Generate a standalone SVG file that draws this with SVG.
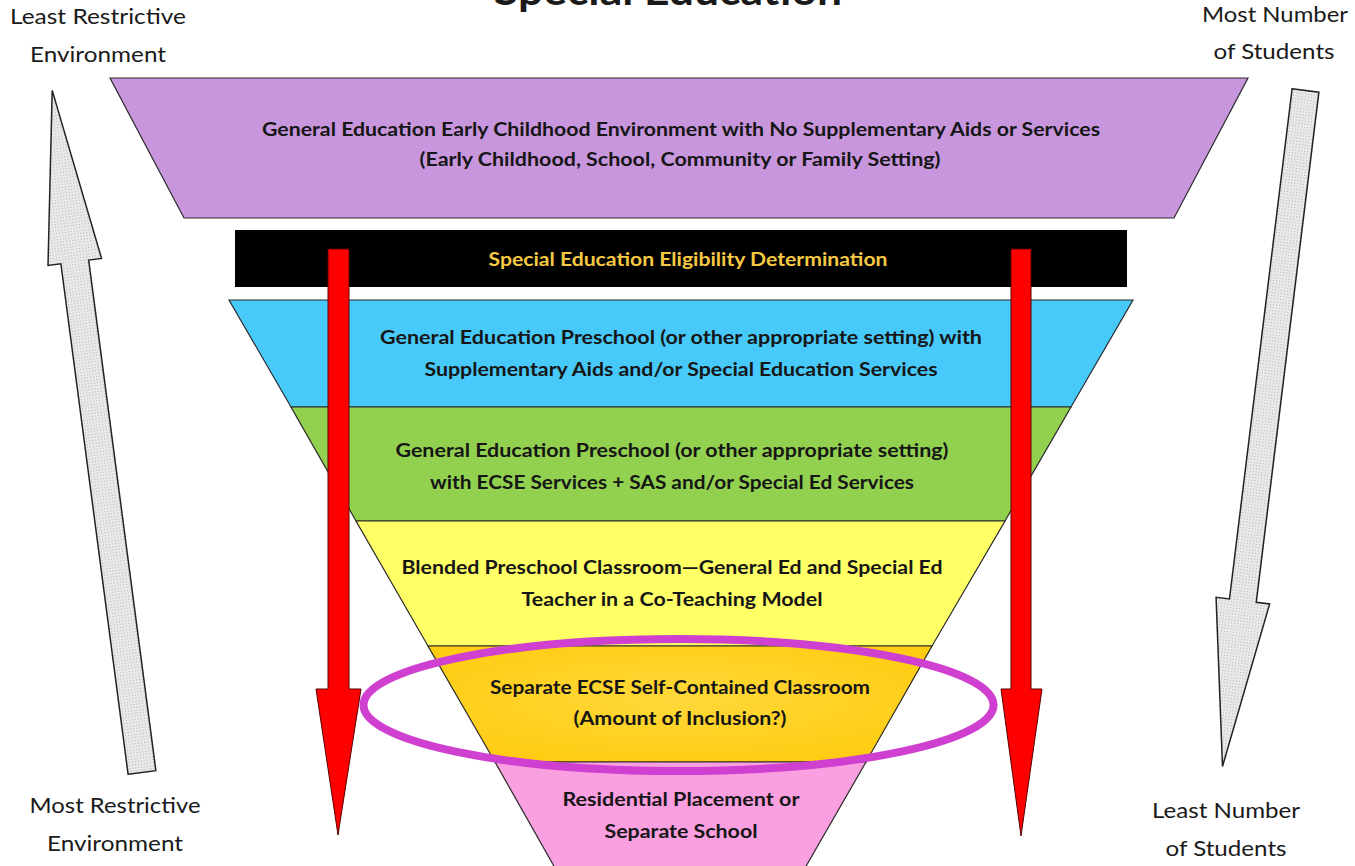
<svg xmlns="http://www.w3.org/2000/svg" width="1355" height="866" viewBox="0 0 1355 866">
<style>
.lbl{font-family:Lato,"Open Sans","Liberation Sans",sans-serif;font-size:22px;fill:#1a1a1a;text-anchor:middle}
.t{font-family:Lato,"Open Sans","Liberation Sans",sans-serif;font-size:19px;font-weight:bold;fill:#161616;text-anchor:middle}
.layer{stroke:#2a2a2a;stroke-width:1.2}
.red{fill:#ff0000;stroke:#5a0000;stroke-width:1}
.gray{fill:url(#dots);stroke:#222;stroke-width:1.5}
</style>
<defs>
<pattern id="dots" width="3" height="3" patternUnits="userSpaceOnUse">
<rect width="3" height="3" fill="#f0f0f0"/>
<rect x="0" y="0" width="1" height="1" fill="#a8a8a8"/>
<rect x="1.5" y="1.5" width="1" height="1" fill="#c4c4c4"/>
</pattern>
<radialGradient id="gold" cx="0.5" cy="0.45" r="0.6">
<stop offset="0" stop-color="#ffd83a"/>
<stop offset="1" stop-color="#ffcc12"/>
</radialGradient>
</defs>
<rect width="1355" height="866" fill="#ffffff"/>

<text x="668" y="5" font-family="Lato,'Open Sans','Liberation Sans',sans-serif" font-size="40" font-weight="bold" fill="#1a1a1a" text-anchor="middle" textLength="348" lengthAdjust="spacingAndGlyphs">Special Education</text>

<g id="label-least-restrictive">
<text class="lbl" x="98" y="24" textLength="176" lengthAdjust="spacingAndGlyphs">Least Restrictive</text>
<text class="lbl" x="98" y="62" textLength="136" lengthAdjust="spacingAndGlyphs">Environment</text>
</g>
<g id="label-most-number">
<text class="lbl" x="1275" y="22" textLength="146" lengthAdjust="spacingAndGlyphs">Most Number</text>
<text class="lbl" x="1274" y="59" textLength="121" lengthAdjust="spacingAndGlyphs">of Students</text>
</g>
<g id="label-most-restrictive">
<text class="lbl" x="115" y="813" textLength="171" lengthAdjust="spacingAndGlyphs">Most Restrictive</text>
<text class="lbl" x="115" y="851" textLength="136" lengthAdjust="spacingAndGlyphs">Environment</text>
</g>
<g id="label-least-number">
<text class="lbl" x="1226" y="818" textLength="148" lengthAdjust="spacingAndGlyphs">Least Number</text>
<text class="lbl" x="1226" y="856" textLength="121" lengthAdjust="spacingAndGlyphs">of Students</text>
</g>

<g id="gen-ed">
<polygon class="layer" points="110,78 1248,78 1174,218 184,218" fill="#c896dc"/>
<text class="t" x="681" y="136" textLength="838" lengthAdjust="spacingAndGlyphs">General Education Early Childhood Environment with No Supplementary Aids or Services</text>
<text class="t" x="680" y="166" textLength="521" lengthAdjust="spacingAndGlyphs">(Early Childhood, School, Community or Family Setting)</text>
</g>

<g id="eligibility">
<rect x="235" y="230" width="892" height="57" fill="#000000"/>
<text class="t" x="688" y="266" style="fill:#f7c843" textLength="399" lengthAdjust="spacingAndGlyphs">Special Education Eligibility Determination</text>
</g>

<g id="sas">
<polygon class="layer" points="229,300 1133,300 1071,407 291,407" fill="#47c9fa"/>
<text class="t" x="681" y="344" textLength="602" lengthAdjust="spacingAndGlyphs">General Education Preschool (or other appropriate setting) with</text>
<text class="t" x="681" y="376" textLength="513" lengthAdjust="spacingAndGlyphs">Supplementary Aids and/or Special Education Services</text>
</g>

<g id="ecse-services">
<polygon class="layer" points="291,407 1071,407 1005,521 356,521" fill="#92d050"/>
<text class="t" x="672" y="457" textLength="553" lengthAdjust="spacingAndGlyphs">General Education Preschool (or other appropriate setting)</text>
<text class="t" x="672" y="489" textLength="484" lengthAdjust="spacingAndGlyphs">with ECSE Services + SAS and/or Special Ed Services</text>
</g>

<g id="blended">
<polygon class="layer" points="356,521 1005,521 932,646 428,646" fill="#ffff66"/>
<text class="t" x="672" y="574" textLength="541" lengthAdjust="spacingAndGlyphs">Blended Preschool Classroom—General Ed and Special Ed</text>
<text class="t" x="672" y="606" textLength="301" lengthAdjust="spacingAndGlyphs">Teacher in a Co-Teaching Model</text>
</g>

<g id="self-contained">
<polygon class="layer" points="428,646 932,646 866,762 495,762" fill="url(#gold)"/>
<text class="t" x="680" y="694" textLength="380" lengthAdjust="spacingAndGlyphs">Separate ECSE Self-Contained Classroom</text>
<text class="t" x="680" y="725" textLength="213" lengthAdjust="spacingAndGlyphs">(Amount of Inclusion?)</text>
</g>

<g id="residential">
<polygon class="layer" points="495,762 866,762 805,868 555,868" fill="#fa9fe0"/>
<text class="t" x="681" y="806" textLength="237" lengthAdjust="spacingAndGlyphs">Residential Placement or</text>
<text class="t" x="681" y="838" textLength="153" lengthAdjust="spacingAndGlyphs">Separate School</text>
</g>

<g id="highlight">
<ellipse cx="678.5" cy="705" rx="315" ry="66" fill="none" stroke="#d040d0" stroke-width="8"/>
</g>

<g id="connectors">
<polygon class="gray" transform="translate(142,772.5) rotate(-7.5)" points="-14,0 14,0 14,-515 27,-515 0,-688 -27,-515 -14,-515"/>
<polygon class="gray" transform="translate(1305.5,90.5) rotate(7)" points="-13.5,0 13.5,0 13.5,514 27,514 0,681 -27,514 -13.5,514"/>
<polygon class="red" points="328,249 349,249 349,689 361,689 338,835 316,689 328,689"/>
<polygon class="red" points="1011,249 1031,249 1031,689 1042,689 1021,836 1001,689 1011,689"/>
</g>
</svg>
